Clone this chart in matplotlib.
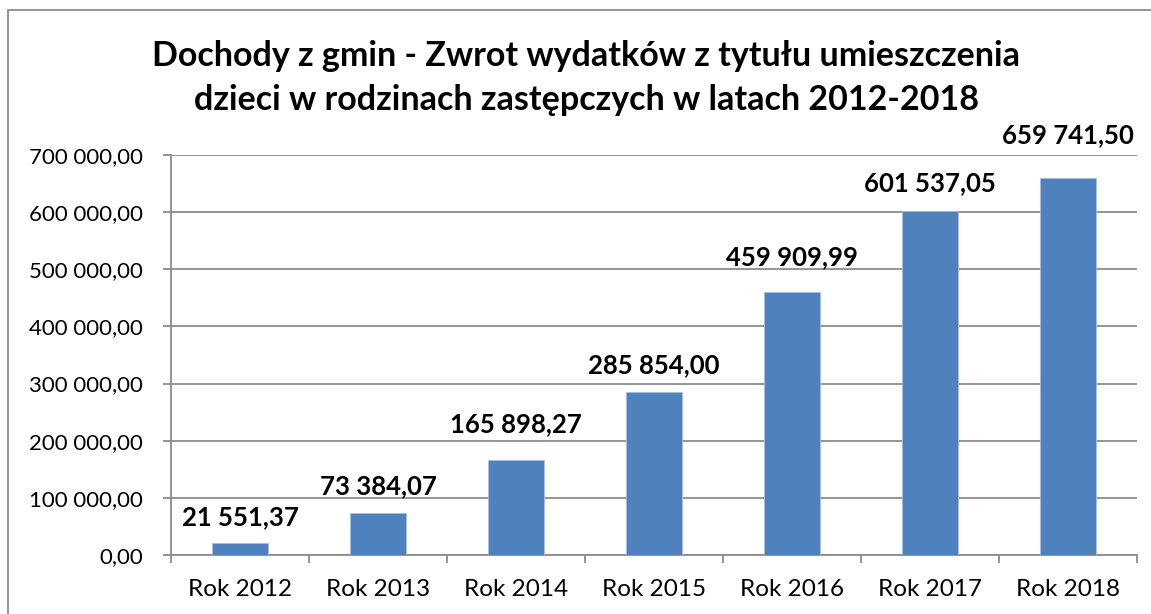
import matplotlib.pyplot as plt
from matplotlib.patches import Rectangle
from matplotlib.ticker import FuncFormatter, FixedLocator

plt.rcParams['font.family'] = ['Lato', 'DejaVu Sans']

# data
years = ['Rok 2012', 'Rok 2013', 'Rok 2014', 'Rok 2015', 'Rok 2016', 'Rok 2017', 'Rok 2018']
values = [21551.37, 73384.07, 165898.27, 285854.00, 459909.99, 601537.05, 659741.50]

# label distance above bar top (px), labels were hand-placed in the original
label_offsets = [26, 27, 36, 27, 35, 28, 43]


def pl_format(v, pos=None):
    s = f"{v:,.2f}"
    return s.replace(',', ' ').replace('.', ',')


dpi = 100
fig = plt.figure(figsize=(11.51, 6.14), dpi=dpi)
ax = fig.add_axes([171 / 1151, 1 - 555 / 614, (1137 - 171) / 1151, 400 / 614])

# outer chart border (cropped at right and bottom like the source)
fig.add_artist(Rectangle((8 / 1151, -0.1), 1.2, 1 - 10 / 614 + 0.1,
                         transform=fig.transFigure, fill=False,
                         edgecolor='#8c8c8c', linewidth=1.3))

x = range(len(years))
ax.bar(x, values, width=0.4, color='#4F81BD', edgecolor='#a7c0de', linewidth=0.6, zorder=3)

for i, v in enumerate(values):
    ax.annotate(pl_format(v), (i, v), xytext=(0, label_offsets[i] * 72 / dpi),
                textcoords='offset points', ha='center', va='center',
                fontsize=18.5, fontweight='bold', color='black')

ax.set_xlim(-0.5, len(years) - 0.5)
ax.set_ylim(0, 700000)
ax.set_yticks(range(0, 700001, 100000))
ax.yaxis.set_major_formatter(FuncFormatter(pl_format))
ax.set_xticks(list(x))
ax.set_xticklabels(years)
ax.xaxis.set_minor_locator(FixedLocator([i - 0.5 for i in range(len(years) + 1)]))

ax.grid(axis='y', color='#8c8c8c', linewidth=1.3, zorder=0)
for side in ['top', 'right']:
    ax.spines[side].set_visible(False)
for side in ['left', 'bottom']:
    ax.spines[side].set_color('#8c8c8c')
    ax.spines[side].set_linewidth(1.3)

ax.tick_params(axis='y', length=6, width=1.3, color='#8c8c8c', pad=14, labelsize=16)
ax.tick_params(axis='x', which='major', length=0, pad=17, labelsize=17.5)
ax.tick_params(axis='x', which='minor', length=6, width=1.3, color='#8c8c8c')

fig.text(586 / 1151, 1 - 78 / 614,
         'Dochody z gmin - Zwrot wydatków z tytułu umieszczenia\n'
         'dzieci w rodzinach zastępczych w latach 2012-2018',
         ha='center', va='center', fontsize=24.5, fontweight='bold',
         linespacing=1.45)

fig.savefig('out.png', dpi=dpi)
